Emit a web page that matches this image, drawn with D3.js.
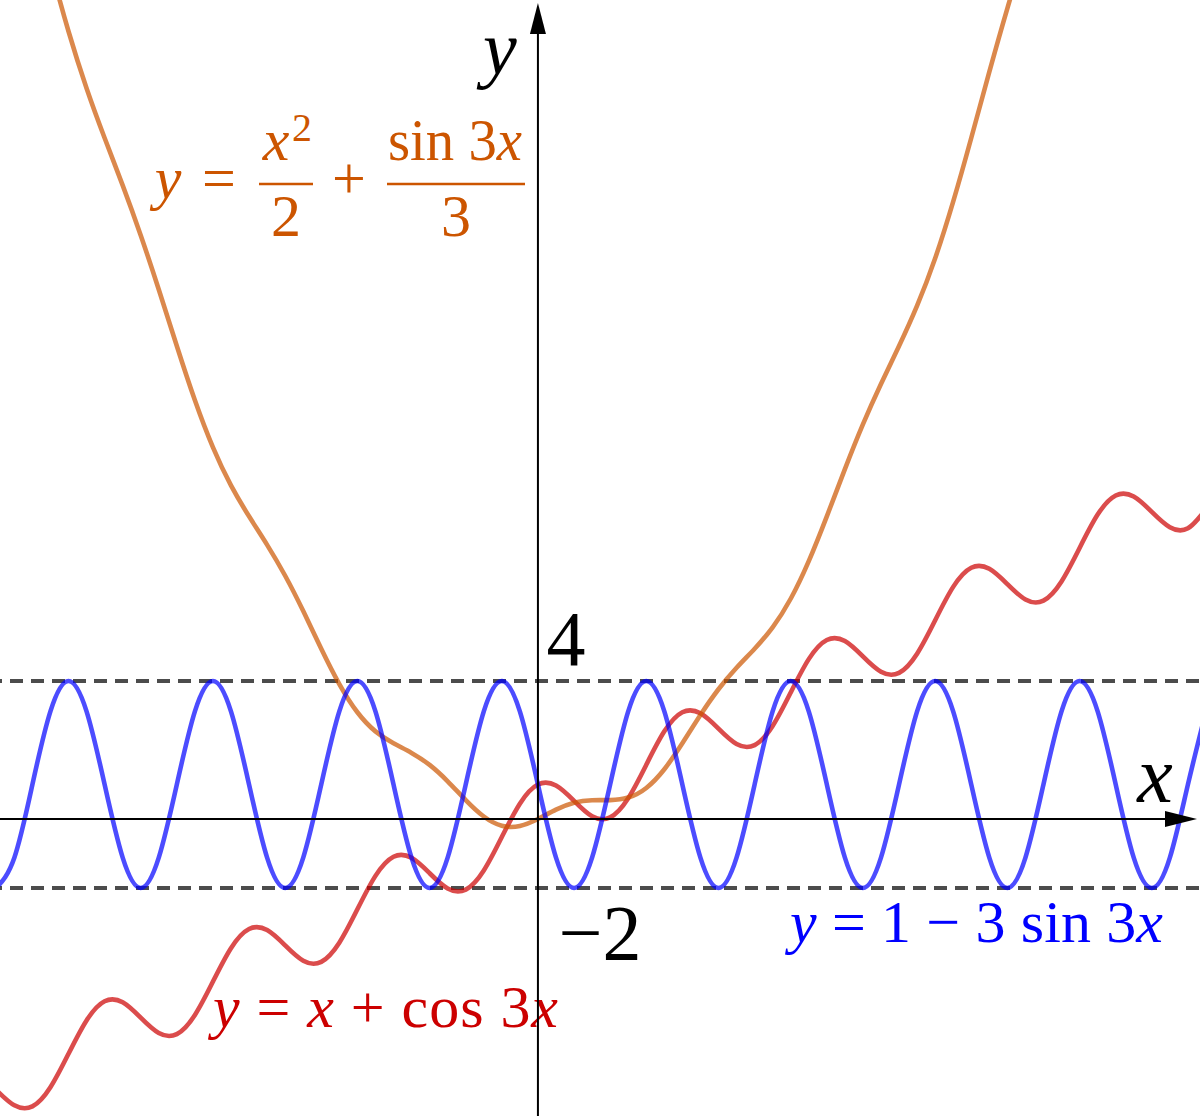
<!DOCTYPE html>
<html><head><meta charset="utf-8">
<script src="https://cdn.jsdelivr.net/npm/d3@7"></script>
<style>body{margin:0;background:#fff}svg{display:block}</style>
</head><body><svg id="c" width="1200" height="1116"></svg>
<script>
// sample positions along the x axis (data units)
const xs = [-7.854,-7.592,-7.330,-7.069,-6.807,-6.545,-6.283,-6.021,-5.760,-5.498,
  -5.236,-4.974,-4.712,-4.451,-4.189,-3.927,-3.665,-3.403,-3.142,-2.880,
  -2.618,-2.356,-2.094,-1.833,-1.571,-1.309,-1.047,-0.785,-0.524,-0.262,
  0,0.262,0.524,0.785,1.047,1.309,1.571,1.833,2.094,2.356,
  2.618,2.880,3.142,3.403,3.665,3.927,4.189,4.451,4.712,4.974,
  5.236,5.498,5.760,6.021,6.283,6.545,6.807,7.069,7.330,7.592,
  7.854,8.116,8.378,8.639,8.901,9.163,9.425,9.687];
// y = 1 - 3 sin 3x (blue)
const blueY = [-2,-1.12,1,3.12,4,3.12,1,-1.12,-2,-1.12,
  1,3.12,4,3.12,1,-1.12,-2,-1.12,1,3.12,
  4,3.12,1,-1.12,-2,-1.12,1,3.12,4,3.12,
  1,-1.12,-2,-1.12,1,3.12,4,3.12,1,-1.12,
  -2,-1.12,1,3.12,4,3.12,1,-1.12,-2,-1.12,
  1,3.12,4,3.12,1,-1.12,-2,-1.12,1,3.12,
  4,3.12,1,-1.12,-2,-1.12,1,3.12];
// y = x + cos 3x (red)
const redY = [-7.854,-8.299,-8.330,-7.776,-6.807,-5.838,-5.283,-5.314,-5.760,-6.205,
  -6.236,-5.681,-4.712,-3.744,-3.189,-3.220,-3.665,-4.110,-4.142,-3.587,
  -2.618,-1.649,-1.094,-1.126,-1.571,-2.016,-2.047,-1.492,-0.524,0.445,
  1,0.969,0.524,0.078,0.047,0.602,1.571,2.540,3.094,3.063,
  2.618,2.173,2.142,2.696,3.665,4.634,5.189,5.158,4.712,4.267,
  4.236,4.791,5.760,6.728,7.283,7.252,6.807,6.362,6.330,6.885,
  7.854,8.823,9.378,9.346,8.901,8.456,8.425,8.980];
// y = x^2/2 + sin(3x)/3 (orange), for xs[2] .. xs[58]
const orangeY = [26.867,24.746,22.833,21.182,19.739,18.364,16.920,15.349,13.708,12.135,
  10.770,9.668,8.773,7.946,7.050,6.027,4.935,3.911,3.094,2.540,
  2.193,1.915,1.567,1.093,0.548,0.072,-0.196,-0.202,0,0.270,
  0.470,0.544,0.548,0.621,0.900,1.443,2.193,3.012,3.760,4.382,
  4.935,5.556,6.384,7.475,8.773,10.140,11.436,12.607,13.708,14.877,
  16.253,17.893,19.739,21.654,23.499,25.218,26.867];
const orangeX = xs.slice(2, 59);
const refLevels = [4, -2];
const tickLabels = ["4", "\u22122"];

const W = 1200, H = 1116;
const svg = d3.select("#c");
const x = d3.scaleLinear().domain([-7.8, 9.6]).range([0, W]);
const y = d3.scaleLinear().domain([-8.609, 23.739]).range([H, 0]);

svg.append("defs").append("clipPath").attr("id","clip")
  .append("rect").attr("x",0).attr("y",0).attr("width",W).attr("height",H);

// dashed reference lines
svg.selectAll("line.ref").data(refLevels).join("line")
  .attr("class","ref")
  .attr("x1", x(-7.8)).attr("x2", x(9.6))
  .attr("y1", d => y(d)).attr("y2", d => y(d))
  .attr("stroke", "#000").attr("stroke-opacity", 0.7)
  .attr("stroke-width", 4).attr("stroke-dasharray", "13 8").attr("stroke-dashoffset", 11);

const line = d3.line().x(d => x(d[0])).y(d => y(d[1])).curve(d3.curveNatural);
const g = svg.append("g").attr("clip-path","url(#clip)");
const series = [
  {pts: d3.zip(xs, redY), color: "#cc0000"},
  {pts: d3.zip(orangeX, orangeY), color: "#cc5500"},
  {pts: d3.zip(xs, blueY), color: "#0000ff"}
];
g.selectAll("path").data(series).join("path")
  .attr("d", d => line(d.pts))
  .attr("fill","none").attr("stroke", d => d.color)
  .attr("stroke-opacity", 0.7).attr("stroke-width", 4.6)
  .attr("stroke-linejoin","round");

const FONT = "'Liberation Serif', 'Times New Roman', serif";
function txt(parent, str, cx, by, size, color, italic, anchor) {
  return parent.append("text").attr("x", cx).attr("y", by)
    .attr("font-family", FONT).attr("font-size", size)
    .attr("font-style", italic ? "italic" : "normal")
    .attr("text-anchor", anchor || "middle").attr("fill", color).text(str);
}

// orange formula: y = x^2/2 + sin3x/3
const oc = "#cc5500";
const og = svg.append("g");
txt(og, "y", 168, 198, 60, oc, true);
txt(og, "=", 219, 198, 60, oc, false);
og.append("line").attr("x1",259).attr("x2",313).attr("y1",184).attr("y2",184).attr("stroke",oc).attr("stroke-width",2.4);
txt(og, "x", 276, 160, 60, oc, true);
txt(og, "2", 302, 141, 40, oc, false);
txt(og, "2", 286, 236, 60, oc, false);
txt(og, "+", 349, 198, 60, oc, false);
og.append("line").attr("x1",387).attr("x2",525).attr("y1",184).attr("y2",184).attr("stroke",oc).attr("stroke-width",2.4);
const sn = og.append("text").attr("x",388).attr("y",160).attr("font-family",FONT).attr("font-size",60)
  .attr("fill",oc).attr("textLength",134).attr("lengthAdjust","spacingAndGlyphs");
sn.append("tspan").text("sin 3");
sn.append("tspan").attr("font-style","italic").text("x");
txt(og, "3", 456, 236, 60, oc, false);

// blue formula
const bt = svg.append("text").attr("x",790).attr("y",942).attr("font-family",FONT).attr("font-size",60)
  .attr("fill","#0000ff").attr("textLength",373).attr("lengthAdjust","spacing");
bt.append("tspan").attr("font-style","italic").text("y");
bt.append("tspan").text(" = 1 \u2212 3 sin 3");
bt.append("tspan").attr("font-style","italic").text("x");

// red formula
const rt = svg.append("text").attr("x",213).attr("y",1027).attr("font-family",FONT).attr("font-size",60)
  .attr("fill","#cc0000").attr("textLength",345).attr("lengthAdjust","spacing");
rt.append("tspan").attr("font-style","italic").text("y");
rt.append("tspan").text(" = ");
rt.append("tspan").attr("font-style","italic").text("x");
rt.append("tspan").text(" + cos 3");
rt.append("tspan").attr("font-style","italic").text("x");

// tick labels and axis labels
txt(svg, tickLabels[0], x(0) + 28, y(4) - 16, 78, "#000", false);
txt(svg, tickLabels[1], x(0) + 62, y(-2) + 71, 78, "#000", false);
txt(svg, "y", x(0) - 38, 74, 76, "#000", true);
txt(svg, "x", 1155, 802, 80, "#000", true);

// axes
const ax = svg.append("g").attr("stroke","#000").attr("stroke-width",2);
ax.append("line").attr("x1", x(-7.8)).attr("x2", 1170).attr("y1", y(0)).attr("y2", y(0));
ax.append("line").attr("x1", x(0)).attr("x2", x(0)).attr("y1", y(-8.609)).attr("y2", 28);
const X0 = x(0), Y0 = y(0);
svg.append("path").attr("d", `M${1197},${Y0} L${1165},${Y0-8} L${1165},${Y0+8} Z`).attr("fill","#000");
svg.append("path").attr("d", `M${X0},3 L${X0-8},34 L${X0+8},34 Z`).attr("fill","#000");
</script></body></html>
